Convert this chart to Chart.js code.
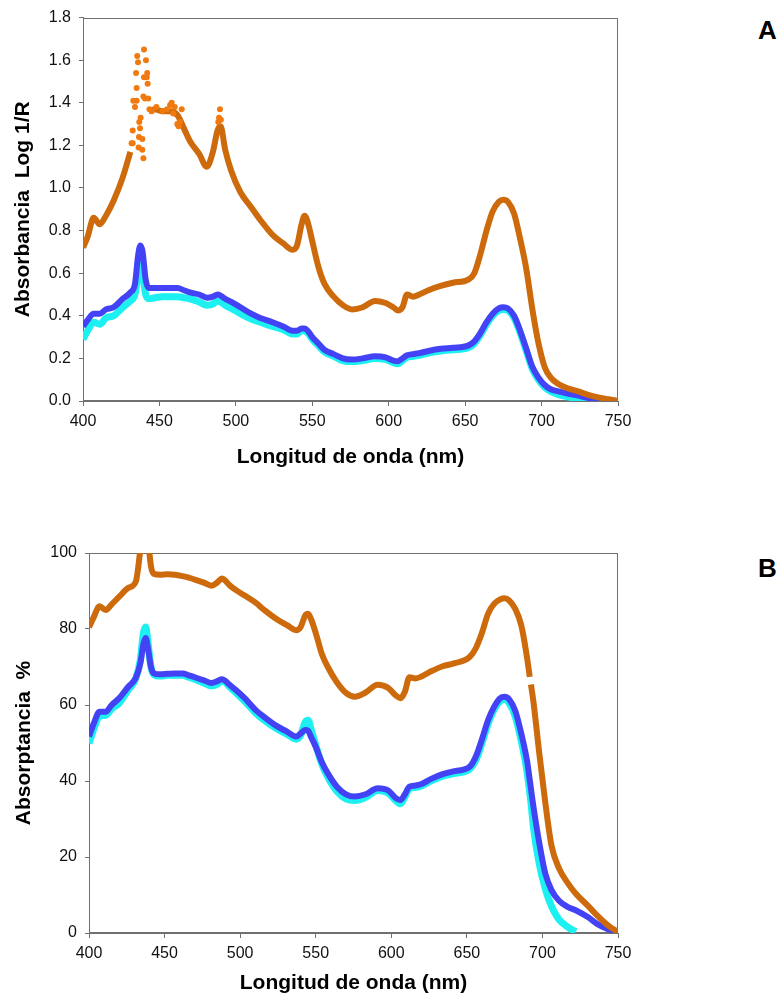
<!DOCTYPE html>
<html lang="es">
<head>
  <meta charset="UTF-8" />
  <title>Absorbancia y absorptancia</title>
  <script src="https://cdn.jsdelivr.net/npm/chart.js"></script>
  <style>
    body {
      margin: 0;
      background: #fff;
      font-family: 'Liberation Sans', Arial, sans-serif;
    }
    .lienzo { position: absolute; left: 0; }
    .letra {
      position: absolute;
      left: 758px;
      font-weight: bold;
      font-size: 26px;
      line-height: 26px;
      color: #000;
    }
  </style>
</head>
<body>
  <canvas id="graficoA" class="lienzo" style="top:0" width="640" height="480"></canvas>
  <canvas id="graficoB" class="lienzo" style="top:520px" width="640" height="476"></canvas>
  <div class="letra" style="top:17px">A</div>
  <div class="letra" style="top:555px">B</div>

  <script>
    // Longitudes de onda (nm) y valores
    const ticksX = [400, 450, 500, 550, 600, 650, 700, 750];
    const ticksA = [0, 0.2, 0.4, 0.6, 0.8, 1.0, 1.2, 1.4, 1.6, 1.8];
    const ticksB = [0, 20, 40, 60, 80, 100];

    const nmA = [400, 403, 407, 411, 415, 420, 426, 431, 434, 436, 437.5, 439, 441, 443, 447, 452, 457, 462, 466, 470,
      476, 481, 485, 488, 490, 493, 497, 503, 510, 516, 524, 531, 537, 540, 543, 545, 547, 550, 554, 558,
      564, 570, 576, 583, 591, 598, 603, 606, 609, 612, 616, 620, 626, 634, 642, 652, 656, 660, 664, 668,
      672, 675, 678, 682, 686, 690, 694, 698, 702, 706, 711, 717, 724, 730, 737, 744, 750];

    const absNaranja = [0.72, 0.77, 0.86, 0.83, 0.87, 0.94, 1.05, 1.17, null, null, null, null, null, 1.36, 1.37, 1.36, 1.36, 1.34, 1.28, 1.22,
      1.16, 1.10, 1.17, 1.27, 1.29, 1.18, 1.08, 0.98, 0.91, 0.85, 0.78, 0.74, 0.71, 0.73, 0.83, 0.87, 0.84, 0.75, 0.63, 0.55,
      0.49, 0.45, 0.43, 0.44, 0.47, 0.46, 0.44, 0.425, 0.44, 0.50, 0.49, 0.50, 0.52, 0.54, 0.555, 0.57, 0.60, 0.69, 0.80, 0.89,
      0.935, 0.945, 0.935, 0.88, 0.76, 0.62, 0.43, 0.27, 0.16, 0.11, 0.08, 0.06, 0.045, 0.03, 0.017, 0.008, 0.0];

    const absAzul = [0.35, 0.38, 0.41, 0.41, 0.43, 0.44, 0.48, 0.51, 0.55, 0.68, 0.73, 0.70, 0.57, 0.53, 0.53, 0.53, 0.53, 0.53, 0.52, 0.51,
      0.50, 0.485, 0.49, 0.50, 0.495, 0.48, 0.465, 0.44, 0.41, 0.39, 0.37, 0.35, 0.33, 0.33, 0.34, 0.34, 0.33, 0.30, 0.27, 0.24,
      0.22, 0.20, 0.195, 0.20, 0.21, 0.205, 0.19, 0.187, 0.20, 0.215, 0.22, 0.225, 0.235, 0.245, 0.25, 0.26, 0.28, 0.32, 0.37, 0.41,
      0.435, 0.44, 0.435, 0.40, 0.33, 0.245, 0.16, 0.11, 0.075, 0.055, 0.045, 0.035, 0.025, 0.015, 0.008, 0.003, 0.0];

    const absCian = [0.29, 0.33, 0.37, 0.36, 0.39, 0.40, 0.44, 0.47, 0.50, 0.60, 0.66, 0.60, 0.50, 0.48, 0.485, 0.49, 0.49, 0.49, 0.485, 0.48,
      0.465, 0.45, 0.455, 0.47, 0.465, 0.45, 0.435, 0.41, 0.385, 0.37, 0.35, 0.335, 0.315, 0.315, 0.33, 0.33, 0.32, 0.29, 0.26, 0.23,
      0.21, 0.19, 0.185, 0.19, 0.20, 0.195, 0.18, 0.175, 0.19, 0.205, 0.21, 0.215, 0.225, 0.235, 0.24, 0.25, 0.27, 0.31, 0.36, 0.40,
      0.425, 0.43, 0.425, 0.39, 0.32, 0.235, 0.15, 0.10, 0.065, 0.045, 0.03, 0.02, 0.008, 0.0, null, null, null];

    // puntos sueltos (ruido) de la serie naranja entre 430 y 490 nm
    const nmRuido = [431.8, 432.5, 432.5, 432.9, 434, 434.7, 435.1, 435.1, 435.5, 436, 436.4, 436.6, 436.8, 437.3, 437.7, 438.8, 438.8,
      439.5, 439.5, 439.9, 439.9, 440.5, 441.2, 441.7, 442, 442.3, 442.7, 443.5, 445, 448, 452, 455, 457, 458, 459, 460,
      461.7, 462.5, 463.5, 464.6, 488.5, 489, 489.6, 490.2];
    const absRuido = [1.21, 1.27, 1.21, 1.41, 1.38, 1.54, 1.47, 1.41, 1.62, 1.59, 1.19, 1.24, 1.31, 1.28, 1.33, 1.23, 1.18,
      1.14, 1.43, 1.65, 1.52, 1.42, 1.60, 1.52, 1.54, 1.49, 1.42, 1.37, 1.36, 1.38, 1.36, 1.37, 1.39, 1.40, 1.35, 1.38,
      1.30, 1.29, 1.31, 1.37, 1.31, 1.33, 1.37, 1.32];

    const nmB = [400, 403, 407, 411, 415, 420, 426, 431, 434, 436, 437.5, 439, 441, 443, 447, 452, 457, 462, 466, 470,
      476, 481, 485, 488, 490, 493, 497, 503, 510, 516, 524, 531, 537, 540, 543, 545, 547, 550, 554, 558,
      564, 570, 576, 583, 591, 598, 603, 606, 609, 612, 616, 620, 626, 634, 642, 652, 656, 660, 664, 668,
      672, 675, 678, 682, 686, 690, 691.6, 692, 692.4, 694, 698, 702, 706, 711, 717, 722, 730, 737, 744, 750];

    const pctNaranja = [80.5, 83, 86, 85, 86.5, 88.5, 90.8, 92.5, 101, 108, 110, 104, 96.5, 94.5, 94.3, 94.4, 94.3, 93.9, 93.5, 93,
      92.2, 91.4, 92.3, 93.3, 92.8, 91.5, 90.3, 88.8, 87, 85, 82.6, 81, 79.7, 80.5, 83.5, 84, 82.5, 79, 73.5, 70,
      66, 63.2, 62.2, 63.3, 65.3, 64.5, 62.5, 61.8, 63.5, 67.3, 67, 67.5, 68.8, 70.2, 71, 72.7, 75, 79, 84, 86.6,
      87.8, 88.1, 87.5, 85.3, 81, 72, 67.4, null, 65.4, 61, 47, 34, 23, 17, 13, 10.4, 7.2, 4.3, 1.8, 0.3];

    const pctAzul = [51.7, 55, 58.2, 58.2, 60, 61.8, 64.8, 67.2, 71, 76, 77.6, 75, 70, 68.3, 68.1, 68.2, 68.3, 68.3, 67.8, 67.3,
      66.5, 65.8, 66.3, 66.8, 66.4, 65.3, 64, 61.8, 58.8, 56.8, 54.5, 53, 51.7, 52.5, 53.4, 53.2, 51.5, 49, 45, 42,
      38.5, 36.5, 35.9, 36.5, 38.1, 37.5, 35.5, 35, 36.5, 38.5, 38.8, 39.2, 40.5, 41.8, 42.6, 43.8, 46.5, 51, 56, 59.5,
      61.8, 62.2, 61.5, 58.5, 52.5, 44.9, 40.3, 39.2, 38, 33.4, 23.5, 15.5, 11.3, 8.5, 6.8, 6.0, 4.2, 2.2, 0.9, 0.0];

    const pctCian = [49.9, 53.5, 57, 57.3, 59, 60.5, 64, 67, 72, 79, 80.5, 76.5, 70, 68, 67.6, 67.8, 67.8, 67.8, 67.3, 66.8,
      65.8, 65, 65.5, 66.3, 66, 64.8, 63.3, 61, 58, 56, 53.8, 52.3, 51, 52, 55.5, 56, 53.5, 49.5, 44.5, 41,
      37.3, 35.3, 34.9, 35.7, 37.5, 36.8, 34.8, 34, 35.8, 38, 38.3, 38.7, 40, 41.3, 42, 43.2, 45.5, 50, 55, 58.8,
      61, 61.5, 60.5, 57, 50.5, 42, 37, 35.6, 34.4, 28, 18, 11.5, 7, 3.5, 1.5, 0.3, null, null, null, null];

    const fuente = "'Liberation Sans', Arial, sans-serif";
    const gris = '#707070';

    function puntos(xs, ys) {
      return xs.map((x, i) => ({ x: x, y: ys[i] }));
    }

    // marco superior y derecho del area de trazado
    const marco = {
      id: 'marco',
      beforeDatasetsDraw(chart) {
        const { ctx, chartArea: a } = chart;
        ctx.save();
        ctx.strokeStyle = gris;
        ctx.lineWidth = 1;
        ctx.strokeRect(Math.round(a.left) + 0.5, Math.round(a.top) + 0.5,
          Math.round(a.right - a.left) - 1, Math.round(a.bottom - a.top) - 1);
        ctx.restore();
      }
    };

    function serie(datos, color, ancho) {
      return {
        data: datos,
        borderColor: color,
        backgroundColor: color,
        borderWidth: ancho,
        pointRadius: 0,
        spanGaps: false,
        cubicInterpolationMode: 'monotone'
      };
    }

    function grafico(id, cfg) {
      new Chart(document.getElementById(id), {
        type: 'line',
        data: { datasets: cfg.datasets },
        plugins: [marco],
        options: {
          responsive: false,
          animation: false,
          layout: { padding: { top: cfg.padTop, right: 22, left: 0, bottom: 0 } },
          plugins: { legend: { display: false }, tooltip: { enabled: false } },
          scales: {
            x: {
              type: 'linear', min: 400, max: 750,
              afterFit: s => { s.height = cfg.altoX; },
              afterBuildTicks: s => { s.ticks = ticksX.map(v => ({ value: v })); },
              ticks: { autoSkip: false, maxRotation: 0, padding: 6, color: '#111', font: { family: fuente, size: 16 } },
              grid: { drawOnChartArea: false, tickLength: 5, color: gris },
              border: { color: gris },
              title: {
                display: true, text: 'Longitud de onda (nm)', color: '#000',
                font: { family: fuente, size: 21, weight: 'bold' },
                padding: { top: 0, bottom: cfg.padTituloX }
              }
            },
            y: {
              type: 'linear', min: 0, max: cfg.maxY,
              afterFit: s => { s.width = cfg.anchoY; },
              afterBuildTicks: s => { s.ticks = cfg.ticksY.map(v => ({ value: v })); },
              ticks: { padding: 8, color: '#111', font: { family: fuente, size: 16 }, callback: cfg.formato },
              grid: { drawOnChartArea: false, tickLength: 4, color: gris },
              border: { color: gris },
              title: {
                display: true, text: cfg.tituloY, color: '#000',
                font: { family: fuente, size: 21, weight: 'bold' },
                padding: { top: cfg.padTituloY, bottom: 0 }
              }
            }
          }
        }
      });
    }

    grafico('graficoA', {
      padTop: 16, altoX: 79, anchoY: 83, padTituloX: 10, padTituloY: 11,
      maxY: 1.8, ticksY: ticksA,
      tituloY: 'Absorbancia  Log 1/R',
      formato: v => v.toFixed(1),
      datasets: [
        Object.assign(serie(puntos(nmRuido, absRuido), '#F07A10', 0), {
          showLine: false, pointRadius: 3, pointBorderWidth: 0, pointBackgroundColor: '#F07A10'
        }),
        serie(puntos(nmA, absNaranja), '#CC6A0C', 6),
        serie(puntos(nmA, absAzul), '#4343F5', 6),
        serie(puntos(nmA, absCian), '#1CF0F0', 7)
      ]
    });

    grafico('graficoB', {
      padTop: 33, altoX: 63, anchoY: 89, padTituloX: 0, padTituloY: 12,
      maxY: 100, ticksY: ticksB,
      tituloY: 'Absorptancia  %',
      formato: v => v,
      datasets: [
        serie(puntos(nmB, pctNaranja), '#CC6A0C', 6),
        serie(puntos(nmB, pctAzul), '#4343F5', 6),
        serie(puntos(nmB, pctCian), '#1CF0F0', 7)
      ]
    });
  </script>
</body>
</html>
